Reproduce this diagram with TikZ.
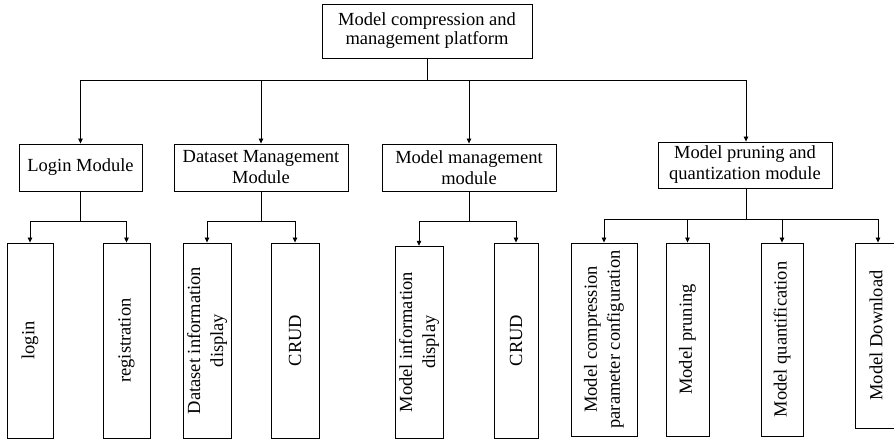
\documentclass[tikz,border=0pt]{standalone}
\usepackage{fontspec}
\setmainfont{Liberation Serif}
\usetikzlibrary{arrows.meta}
\begin{document}
\begin{tikzpicture}[x=1pt,y=-1pt,
  box/.style={draw,line width=0.9pt,inner sep=0pt,align=center,
    font=\fontsize{18.5}{21}\selectfont},
  topbox/.style={box,font=\fontsize{18.5}{19}\selectfont},
  vbox/.style={draw,line width=0.9pt,inner sep=0pt,align=center,rotate=90,
    font=\fontsize{18.5}{23}\selectfont},
  arr/.style={line width=0.8pt,-{Triangle[length=5pt,width=4.5pt]}},
  ln/.style={line width=0.8pt}]
\useasboundingbox (0,0) rectangle (894,439);
\clip (0,0) rectangle (894,439);
% top
\node[topbox,minimum width=210pt,minimum height=54pt] (top) at (427,31)
  {Model compression and\\management platform};
% level 1
\node[box,minimum width=123pt,minimum height=47pt] (login) at (80.5,167.5) {Login Module};
\node[box,minimum width=174pt,minimum height=47pt] (data) at (261,167.5) {Dataset Management\\Module};
\node[box,minimum width=174pt,minimum height=47pt] (model) at (469,167.5) {Model management\\module};
\node[box,minimum width=174pt,minimum height=46pt] (prune) at (745,165) {Model pruning and\\quantization module};
% level 2
\node[vbox,minimum width=195pt,minimum height=46pt] (lg) at (30,340.5) {login};
\node[vbox,minimum width=195pt,minimum height=47pt] (reg) at (126.5,340.5) {registration};
\node[vbox,minimum width=195pt,minimum height=48pt] (dinfo) at (207,340.5) {Dataset information\\display};
\node[vbox,minimum width=195pt,minimum height=48pt] (dcrud) at (295,340.5) {CRUD};
\node[vbox,minimum width=192pt,minimum height=48pt] (minfo) at (419,342.2) {Model information\\display};
\node[vbox,minimum width=195pt,minimum height=44pt] (mcrud) at (516,340.5) {CRUD};
\node[vbox,minimum width=193pt,minimum height=66pt] (pcfg) at (604,339.5) {Model compression\\parameter configuration};
\node[vbox,minimum width=193pt,minimum height=43pt] (ppr) at (687.5,339.5) {Model pruning};
\node[vbox,minimum width=193pt,minimum height=42pt] (pq) at (782,339.5) {Model quantification};
\node[vbox,minimum width=185pt,minimum height=42pt] (pdl) at (876,335.5) {Model Download};
% connectors top -> level 1
\coordinate (j0) at (top.south |- 0,80);
\draw[ln] (top.south) -- (j0);
\draw[arr] (j0) -| (login.north);
\draw[arr] (j0) -| (data.north);
\draw[arr] (j0) -| (model.north);
\draw[arr] (j0) -| ([xshift=1pt]prune.north);
% login
\coordinate (j1) at (login.south |- 0,221);
\draw[ln] (login.south) -- (j1);
\draw[arr] (j1) -| (lg.east);
\draw[arr] (j1) -| (reg.east);
% dataset
\coordinate (j2) at (data.south |- 0,221);
\draw[ln] (data.south) -- (j2);
\draw[arr] (j2) -| (dinfo.east);
\draw[arr] (j2) -| (dcrud.east);
% model
\coordinate (j3) at (model.south |- 0,221);
\draw[ln] (model.south) -- (j3);
\draw[arr] (j3) -| (minfo.east);
\draw[arr] (j3) -| (mcrud.east);
% pruning
\coordinate (j4) at ([xshift=1pt]prune.south |- 0,219.5);
\draw[ln] ([xshift=1pt]prune.south) -- (j4);
\draw[arr] (j4) -| (pcfg.east);
\draw[arr] (j4) -| (ppr.east);
\draw[arr] (j4) -| (pq.east);
\draw[arr] (j4) -| ([xshift=2pt]pdl.east);
\end{tikzpicture}
\end{document}
